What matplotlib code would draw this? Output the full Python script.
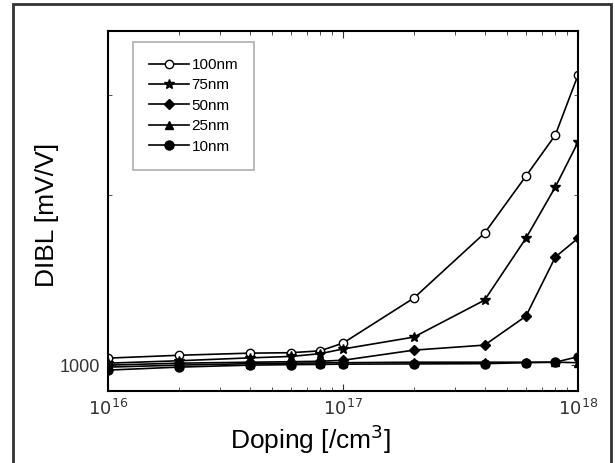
import numpy as np
import matplotlib
matplotlib.use("Agg")
import matplotlib.pyplot as plt
from matplotlib.patches import Rectangle
from matplotlib.ticker import FixedLocator, NullFormatter, LogLocator

plt.rcParams['font.family'] = ['Liberation Sans', 'DejaVu Sans']

# doping levels [/cm^3]
doping = [1e16, 2e16, 4e16, 6e16, 8e16, 1e17, 2e17, 4e17, 6e17, 8e17, 1e18]

# DIBL [mV/V] per device length
dibl_100 = [1029, 1041, 1050, 1052, 1060, 1094, 1314, 1712, 2160, 2553, 3262]
dibl_75 = [1008, 1018, 1030, 1036, 1048, 1068, 1121, 1303, 1677, 2066, 2482]
dibl_50 = [1000, 1008, 1012, 1014, 1016, 1020, 1063, 1085, 1221, 1553, 1677]
dibl_25 = [992, 1000, 1006, 1008, 1009, 1010, 1012, 1012, 1012, 1012, 1010]
dibl_10 = [980, 992, 1000, 1002, 1003, 1004, 1005, 1006, 1010, 1012, 1035]

labels = ['100nm', '75nm', '50nm', '25nm', '10nm']

fig = plt.figure(figsize=(6.15, 4.63), dpi=100)
ax = fig.add_axes([0.1756, 0.1555, 0.7644, 0.7775])

# 100nm: open circles
ax.plot(doping, dibl_100, '-o', color='black', lw=1.2, ms=6,
        mfc='white', mec='black', mew=1.0, label=labels[0])
ax.plot(doping, dibl_75, '-*', color='black', lw=1.2, ms=7.5, label=labels[1])
ax.plot(doping, dibl_50, '-D', color='black', lw=1.2, ms=5.5, label=labels[2])
ax.plot(doping, dibl_25, '-^', color='black', lw=1.2, ms=5.5, label=labels[3])
ax.plot(doping, dibl_10, '-o', color='black', lw=1.2, ms=6.5, label=labels[4])

ax.set_xscale('log')
ax.set_yscale('log')
ax.set_xlim(1e16, 1e18)
ax.set_ylim(900, 3900)

ax.yaxis.set_major_locator(FixedLocator([1000]))
ax.yaxis.set_minor_locator(FixedLocator([900, 2000, 3000]))
ax.yaxis.set_minor_formatter(NullFormatter())
ax.set_yticklabels(['1000'])
ax.xaxis.set_major_locator(FixedLocator([1e16, 1e17, 1e18]))
ax.xaxis.set_minor_locator(LogLocator(base=10, subs=np.arange(2, 10)))
ax.xaxis.set_minor_formatter(NullFormatter())
ax.set_xticklabels([r'$10^{16}$', r'$10^{17}$', r'$10^{18}$'])

ax.tick_params(which='both', direction='in', top=True, right=True,
               labelsize=13, colors='#333333', pad=6)
ax.tick_params(which='major', length=5)
ax.tick_params(which='minor', length=3)
for s in ax.spines.values():
    s.set_linewidth(1.5)

ax.set_xlabel('Doping [/cm$^3$]', fontsize=19, va='center')
ax.set_ylabel('DIBL [mV/V]', fontsize=19, va='center')
ax.xaxis.set_label_coords(0.43, -0.135)
ax.yaxis.set_label_coords(-0.13, 0.49)

leg = ax.legend(loc='upper left', bbox_to_anchor=(0.053, 0.97), fontsize=11,
                frameon=True, fancybox=False, edgecolor='#999999',
                handlelength=2.6, handletextpad=0.2, labelspacing=0.42,
                borderpad=1.05, borderaxespad=0)
leg.get_frame().set_linewidth(1.2)

# dark frame around the figure
fig.patches.append(Rectangle((13 / 615, -0.02), 598 / 615, 1 - 4 / 463 + 0.02,
                             transform=fig.transFigure, fill=False,
                             edgecolor='#333333', lw=2))

fig.savefig('out.png', dpi=100)
